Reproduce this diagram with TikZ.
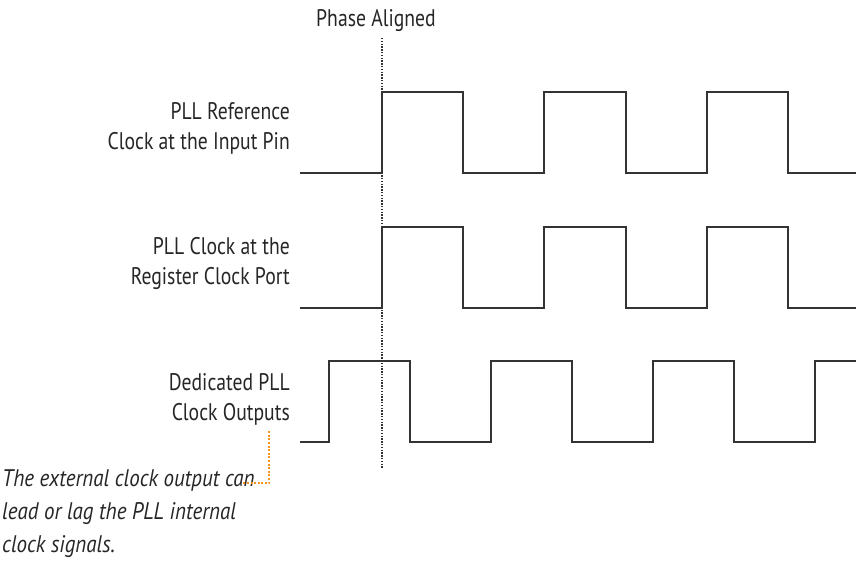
\documentclass[tikz,border=0pt]{standalone}
\usepackage{fontspec}
\setmainfont[FakeStretch=0.82]{PT Sans}
\newfontfamily\notefont[FakeStretch=0.875]{PT Sans}
\begin{document}
\begin{tikzpicture}[x=1pt,y=-1pt,
  lbl/.style={font=\fontsize{24}{30}\selectfont, align=right, anchor=east, text=black!85, inner sep=0pt},
  note/.style={font=\notefont\fontsize{24}{33}\selectfont\itshape, align=left, anchor=north west, text=black!85, inner sep=0pt},
  wave/.style={line width=1.1pt, black!80},
  guide/.style={dash pattern=on 1.4pt off 1.4pt, line width=1.6pt, black!80},
  callout/.style={dash pattern=on 2pt off 1.6pt, line width=1.8pt, color={rgb,255:red,247;green,148;blue,29}}]
\useasboundingbox (0,0) rectangle (858,566);
% title
\node[font=\fontsize{24}{30}\selectfont, text=black!85, inner sep=0pt] (title) at (376,21) {Phase Aligned};
% guide line
\coordinate (gtop) at (382,38);
\coordinate (gbot) at (382,468);
\draw[guide] (gtop) -- (gbot);
% labels
\node[lbl] (l1) at (290,128) {PLL Reference\\Clock at the Input Pin};
\node[lbl] (l2) at (290,263) {PLL Clock at the\\Register Clock Port};
\node[lbl] (l3) at (290,399) {Dedicated PLL\\Clock Outputs};
% waveforms
\draw[wave] (300,173) -- (382,173) -- (382,92) -- (463,92) -- (463,173) -- (544,173) -- (544,92) -- (626,92) -- (626,173) -- (707,173) -- (707,92) -- (788,92) -- (788,173) -- (856,173);
\draw[wave] (300,308) -- (382,308) -- (382,227) -- (463,227) -- (463,308) -- (544,308) -- (544,227) -- (626,227) -- (626,308) -- (707,308) -- (707,227) -- (788,227) -- (788,308) -- (856,308);
\draw[wave] (300,442) -- (329,442) -- (329,361) -- (410,361) -- (410,442) -- (491,442) -- (491,361) -- (572,361) -- (572,442) -- (653,442) -- (653,361) -- (734,361) -- (734,442) -- (815,442) -- (815,361) -- (856,361);
% note
\node[note] (n) at (2,469) {The external clock output can\\lead or lag the PLL internal\\clock signals.};
\coordinate (cc) at (269,483);
\draw[callout] (l3.south -| cc) ++(0,6) -- (cc) -- (243,483);
\end{tikzpicture}
\end{document}
